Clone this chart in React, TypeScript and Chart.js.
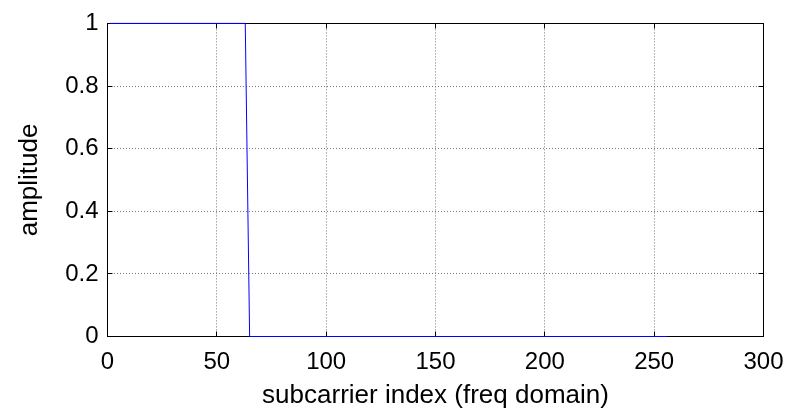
import React, { useEffect, useRef } from "react";
import { Chart, registerables } from "chart.js";

Chart.register(...registerables);

// Breakpoints of the amplitude curve (subcarrier index, amplitude)
const subcarrierIdx = [1, 63, 65, 256];
const amplitude = [1, 1, 0, 0];

const xTicks = [0, 50, 100, 150, 200, 250, 300];
const yTicks = [0, 0.2, 0.4, 0.6, 0.8, 1];
const yTickLabels = ["0", "0.2", "0.4", "0.6", "0.8", "1"];

const xTitle = "subcarrier index (freq domain)";
const yTitle = "amplitude";

const FONT = "'Liberation Sans', Arial, sans-serif";

const boxPlugin = {
  id: "matlabBox",
  beforeDatasetsDraw(chart: any) {
    const { ctx, chartArea: a, scales } = chart;
    const L = 5;
    const top = Math.floor(a.top) + 0.5;
    const bottom = Math.floor(a.bottom) + 0.5;
    const left = Math.floor(a.left) + 0.5;
    const right = Math.floor(a.right) + 0.5;
    ctx.save();
    ctx.strokeStyle = "#000";
    ctx.lineWidth = 1;
    ctx.setLineDash([]);
    ctx.beginPath();
    for (const v of xTicks) {
      const x = Math.floor(scales.x.getPixelForValue(v)) + 0.5;
      ctx.moveTo(x, bottom);
      ctx.lineTo(x, bottom - L);
      ctx.moveTo(x, top);
      ctx.lineTo(x, top + L);
    }
    for (const v of yTicks) {
      const y = Math.floor(scales.y.getPixelForValue(v)) + 0.5;
      ctx.moveTo(left, y);
      ctx.lineTo(left + L, y);
      ctx.moveTo(right, y);
      ctx.lineTo(right - L, y);
    }
    ctx.stroke();
    ctx.strokeRect(left, top, right - left, bottom - top);
    ctx.restore();
  },
};

export default function App() {
  const ref = useRef<HTMLCanvasElement | null>(null);
  useEffect(() => {
    if (!ref.current) return;
    const chart = new Chart(ref.current, {
      type: "line",
      data: {
        datasets: [
          {
            data: subcarrierIdx.map((x, i) => ({ x, y: amplitude[i] })),
            borderColor: "#0000ff",
            borderWidth: 1,
            pointRadius: 0,
            fill: false,
            tension: 0,
            clip: false,
          },
        ],
      },
      options: {
        animation: false,
        responsive: false,
        maintainAspectRatio: false,
        layout: { padding: { left: 0, top: 15.5, right: 35.5, bottom: 0 } },
        plugins: { legend: { display: false }, tooltip: { enabled: false } },
        scales: {
          x: {
            type: "linear",
            min: 0,
            max: 300,
            afterBuildTicks: (s: any) => {
              s.ticks = xTicks.map((v) => ({ value: v }));
            },
            afterFit: (s: any) => {
              s.height = 74.5;
            },
            ticks: {
              color: "#000",
              font: { family: FONT, size: 24 },
              padding: 11,
              maxRotation: 0,
              callback: (v: any) => String(v),
            },
            grid: {
              color: "#777",
              lineWidth: 1,
              drawTicks: false,
            },
            border: { display: false, dash: [1, 2] },
            title: {
              display: true,
              text: xTitle,
              color: "#000",
              font: { family: FONT, size: 26, lineHeight: 1 },
              padding: { top: 0, bottom: 2 },
            },
          },
          y: {
            type: "linear",
            min: 0,
            max: 1,
            afterBuildTicks: (s: any) => {
              s.ticks = yTicks.map((v) => ({ value: v }));
            },
            afterFit: (s: any) => {
              s.width = 107.5;
            },
            ticks: {
              color: "#000",
              font: { family: FONT, size: 24 },
              padding: 9,
              callback: (v: any) => yTickLabels[yTicks.indexOf(v)] ?? String(v),
            },
            grid: {
              color: "#777",
              lineWidth: 1,
              drawTicks: false,
            },
            border: { display: false, dash: [1, 2] },
            title: {
              display: true,
              text: yTitle,
              color: "#000",
              font: { family: FONT, size: 26, lineHeight: 1 },
              padding: { top: 17, bottom: 0 },
            },
          },
        },
      },
      plugins: [boxPlugin],
    } as any);
    return () => chart.destroy();
  }, []);
  return (
    <div style={{ position: "absolute", left: 0, top: 0, width: 799, height: 411, background: "#fff" }}>
      <canvas ref={ref} width={799} height={411} style={{ display: "block" }} />
    </div>
  );
}
